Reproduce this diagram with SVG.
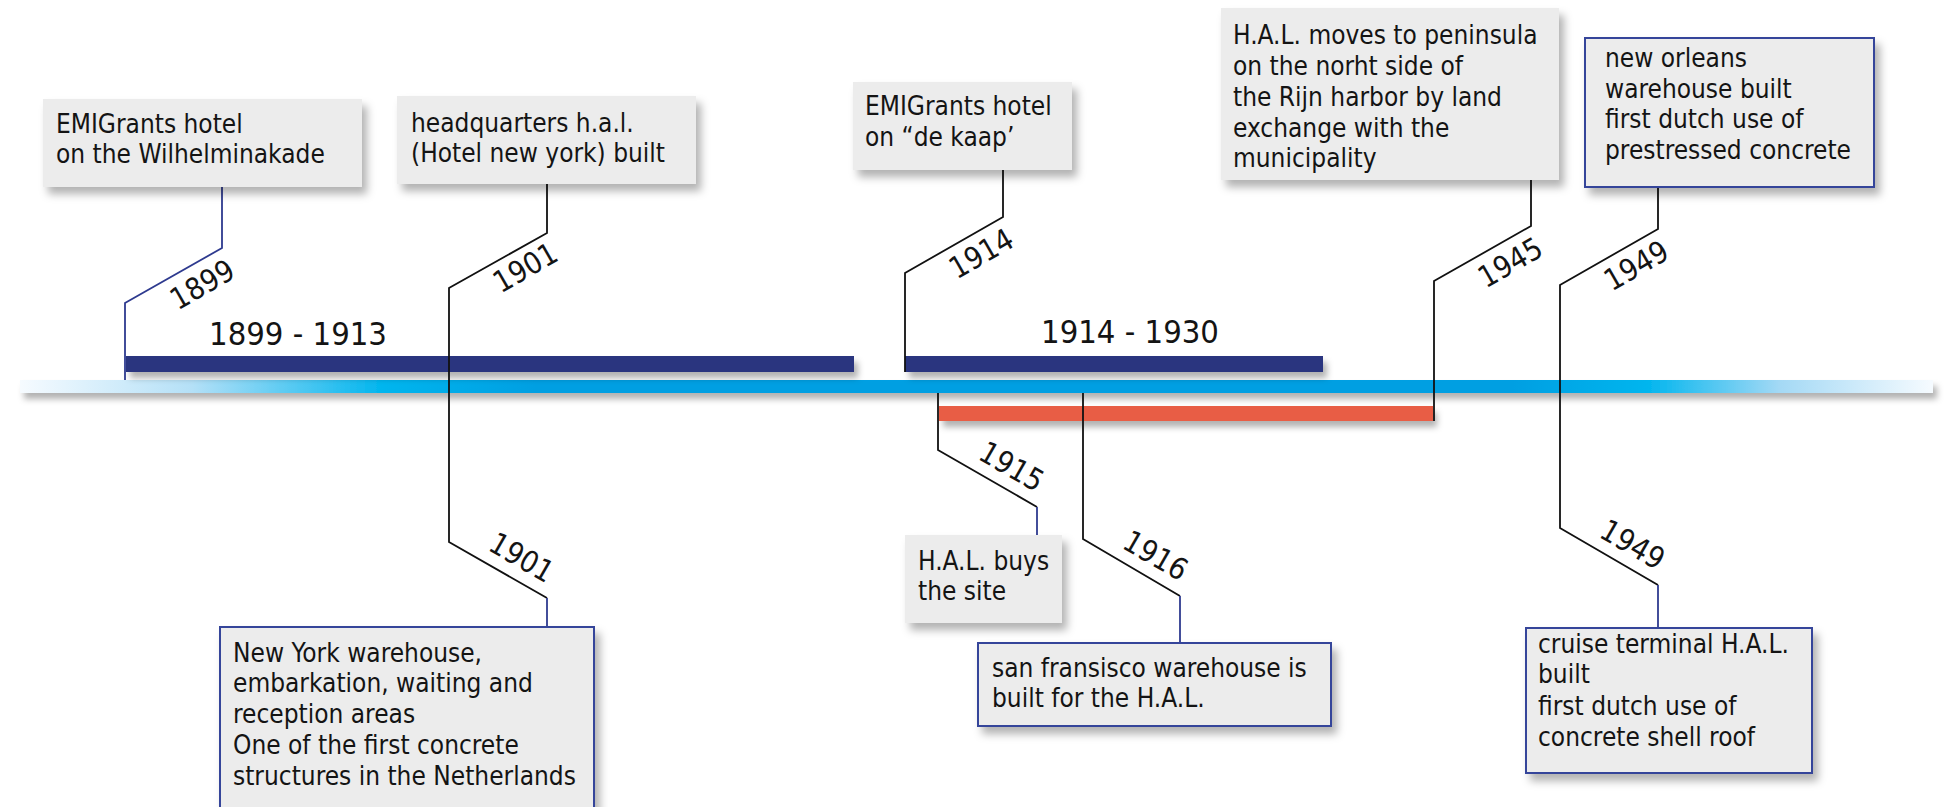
<svg xmlns="http://www.w3.org/2000/svg" width="1951" height="807" viewBox="0 0 1951 807">
<defs>
<filter id="sh" x="-10%" y="-20%" width="130%" height="160%">
<feDropShadow dx="5" dy="7" stdDeviation="4" flood-color="#000" flood-opacity="0.3"/>
</filter>
<filter id="shb" x="-5%" y="-100%" width="110%" height="400%">
<feDropShadow dx="4" dy="6" stdDeviation="3" flood-color="#000" flood-opacity="0.3"/>
</filter>
<linearGradient id="tl" x1="20" y1="0" x2="1933" y2="0" gradientUnits="userSpaceOnUse">
<stop offset="0" stop-color="#f6fbff"/>
<stop offset="0.09" stop-color="#b4e0f7"/>
<stop offset="0.19" stop-color="#00b5ee"/>
<stop offset="0.27" stop-color="#009fe2"/>
<stop offset="0.78" stop-color="#009fe2"/>
<stop offset="0.85" stop-color="#00b5ee"/>
<stop offset="0.92" stop-color="#a4d9f5"/>
<stop offset="1" stop-color="#f6fbff"/>
</linearGradient>
</defs>
<style>
.box{fill:#ececec;filter:url(#sh)}
.bbox{fill:#ececec;stroke:#34449a;stroke-width:2;filter:url(#sh)}
.t{font-family:"DejaVu Sans Condensed","DejaVu Sans",sans-serif;font-stretch:condensed;font-size:26px;fill:#141414}
.yr{font-family:"DejaVu Sans Condensed","DejaVu Sans",sans-serif;font-stretch:condensed;font-size:30px;fill:#141414;text-anchor:middle}
.rg{font-family:"DejaVu Sans Condensed","DejaVu Sans",sans-serif;font-stretch:condensed;font-size:32.5px;fill:#141414;text-anchor:middle}
.k{fill:none;stroke:#111;stroke-width:1.8}
.n{fill:none;stroke:#2e3a8f;stroke-width:1.8}
</style>

<g id="timeline">
<rect x="20" y="380" width="1913" height="13" fill="url(#tl)" filter="url(#shb)"/>
</g>
<g id="bars">
<rect x="126" y="356" width="728" height="16" fill="#29357f" filter="url(#shb)"/>
<rect x="905" y="356" width="418" height="16" fill="#29357f" filter="url(#shb)"/>
<rect x="939" y="406" width="494" height="15" fill="#e85d44" filter="url(#shb)"/>
<text class="rg" x="298" y="345">1899 - 1913</text>
<text class="rg" x="1130" y="343">1914 - 1930</text>
</g>

<g id="connectors">
<polyline class="n" points="222,187 222,248 125,303 125,380"/>
<polyline class="k" points="547,184 547,233 449,288 449,542 547,598"/>
<line class="n" x1="547" y1="598" x2="547" y2="627"/>
<polyline class="k" points="1003,169 1003,217 905,273 905,372"/>
<polyline class="k" points="938,393 938,450 1037,507"/>
<line class="n" x1="1037" y1="507" x2="1037" y2="535"/>
<polyline class="k" points="1083,393 1083,539 1180,596"/>
<line class="n" x1="1180" y1="596" x2="1180" y2="643"/>
<polyline class="k" points="1531,180 1531,226 1434,281 1434,421"/>
<polyline class="k" points="1658,187 1658,229 1560,285 1560,528 1658,585"/>
<line class="n" x1="1658" y1="585" x2="1658" y2="628"/>
<text class="yr" transform="translate(202,284) rotate(-30)" y="11">1899</text>
<text class="yr" transform="translate(525,267) rotate(-30)" y="11">1901</text>
<text class="yr" transform="translate(981,253) rotate(-30)" y="11">1914</text>
<text class="yr" transform="translate(1510,262) rotate(-30)" y="11">1945</text>
<text class="yr" transform="translate(1636,265) rotate(-30)" y="11">1949</text>
<text class="yr" transform="translate(522,557) rotate(30)" y="11">1901</text>
<text class="yr" transform="translate(1012,466) rotate(30)" y="11">1915</text>
<text class="yr" transform="translate(1156,555) rotate(30)" y="11">1916</text>
<text class="yr" transform="translate(1633,544) rotate(30)" y="11">1949</text>
</g>

<g id="n1899">
<rect class="box" x="43" y="99" width="319" height="88"/>
<text class="t" x="56" y="133">EMIGrants hotel</text>
<text class="t" x="56" y="163">on the Wilhelminakade</text>
</g>
<g id="n1901a">
<rect class="box" x="397" y="96" width="299" height="88"/>
<text class="t" x="411" y="132">headquarters h.a.l.</text>
<text class="t" x="411" y="162">(Hotel new york) built</text>
</g>
<g id="n1914">
<rect class="box" x="853" y="82" width="219" height="88"/>
<text class="t" x="865" y="115">EMIGrants hotel</text>
<text class="t" x="865" y="146">on “de kaap’</text>
</g>
<g id="n1945">
<rect class="box" x="1221" y="8" width="338" height="172"/>
<text class="t" x="1233" y="44">H.A.L. moves to peninsula</text>
<text class="t" x="1233" y="75">on the norht side of</text>
<text class="t" x="1233" y="106">the Rijn harbor by land</text>
<text class="t" x="1233" y="137">exchange with the</text>
<text class="t" x="1233" y="167">municipality</text>
</g>
<g id="n1949a">
<rect class="bbox" x="1585" y="38" width="289" height="149"/>
<text class="t" x="1605" y="67">new orleans</text>
<text class="t" x="1605" y="98">warehouse built</text>
<text class="t" x="1605" y="128">first dutch use of</text>
<text class="t" x="1605" y="159">prestressed concrete</text>
</g>
<g id="n1901b">
<rect class="bbox" x="220" y="627" width="374" height="215"/>
<text class="t" x="233" y="662">New York warehouse,</text>
<text class="t" x="233" y="692">embarkation, waiting and</text>
<text class="t" x="233" y="723">reception areas</text>
<text class="t" x="233" y="754">One of the first concrete</text>
<text class="t" x="233" y="785">structures in the Netherlands</text>
</g>
<g id="n1915">
<rect class="box" x="905" y="535" width="157" height="88"/>
<text class="t" x="918" y="570">H.A.L. buys</text>
<text class="t" x="918" y="600">the site</text>
</g>
<g id="n1916">
<rect class="bbox" x="978" y="643" width="353" height="83"/>
<text class="t" x="992" y="677">san fransisco warehouse is</text>
<text class="t" x="992" y="707">built for the H.A.L.</text>
</g>
<g id="n1949b">
<rect class="bbox" x="1526" y="628" width="286" height="145"/>
<text class="t" x="1538" y="653">cruise terminal H.A.L.</text>
<text class="t" x="1538" y="683">built</text>
<text class="t" x="1538" y="715">first dutch use of</text>
<text class="t" x="1538" y="746">concrete shell roof</text>
</g>
</svg>
